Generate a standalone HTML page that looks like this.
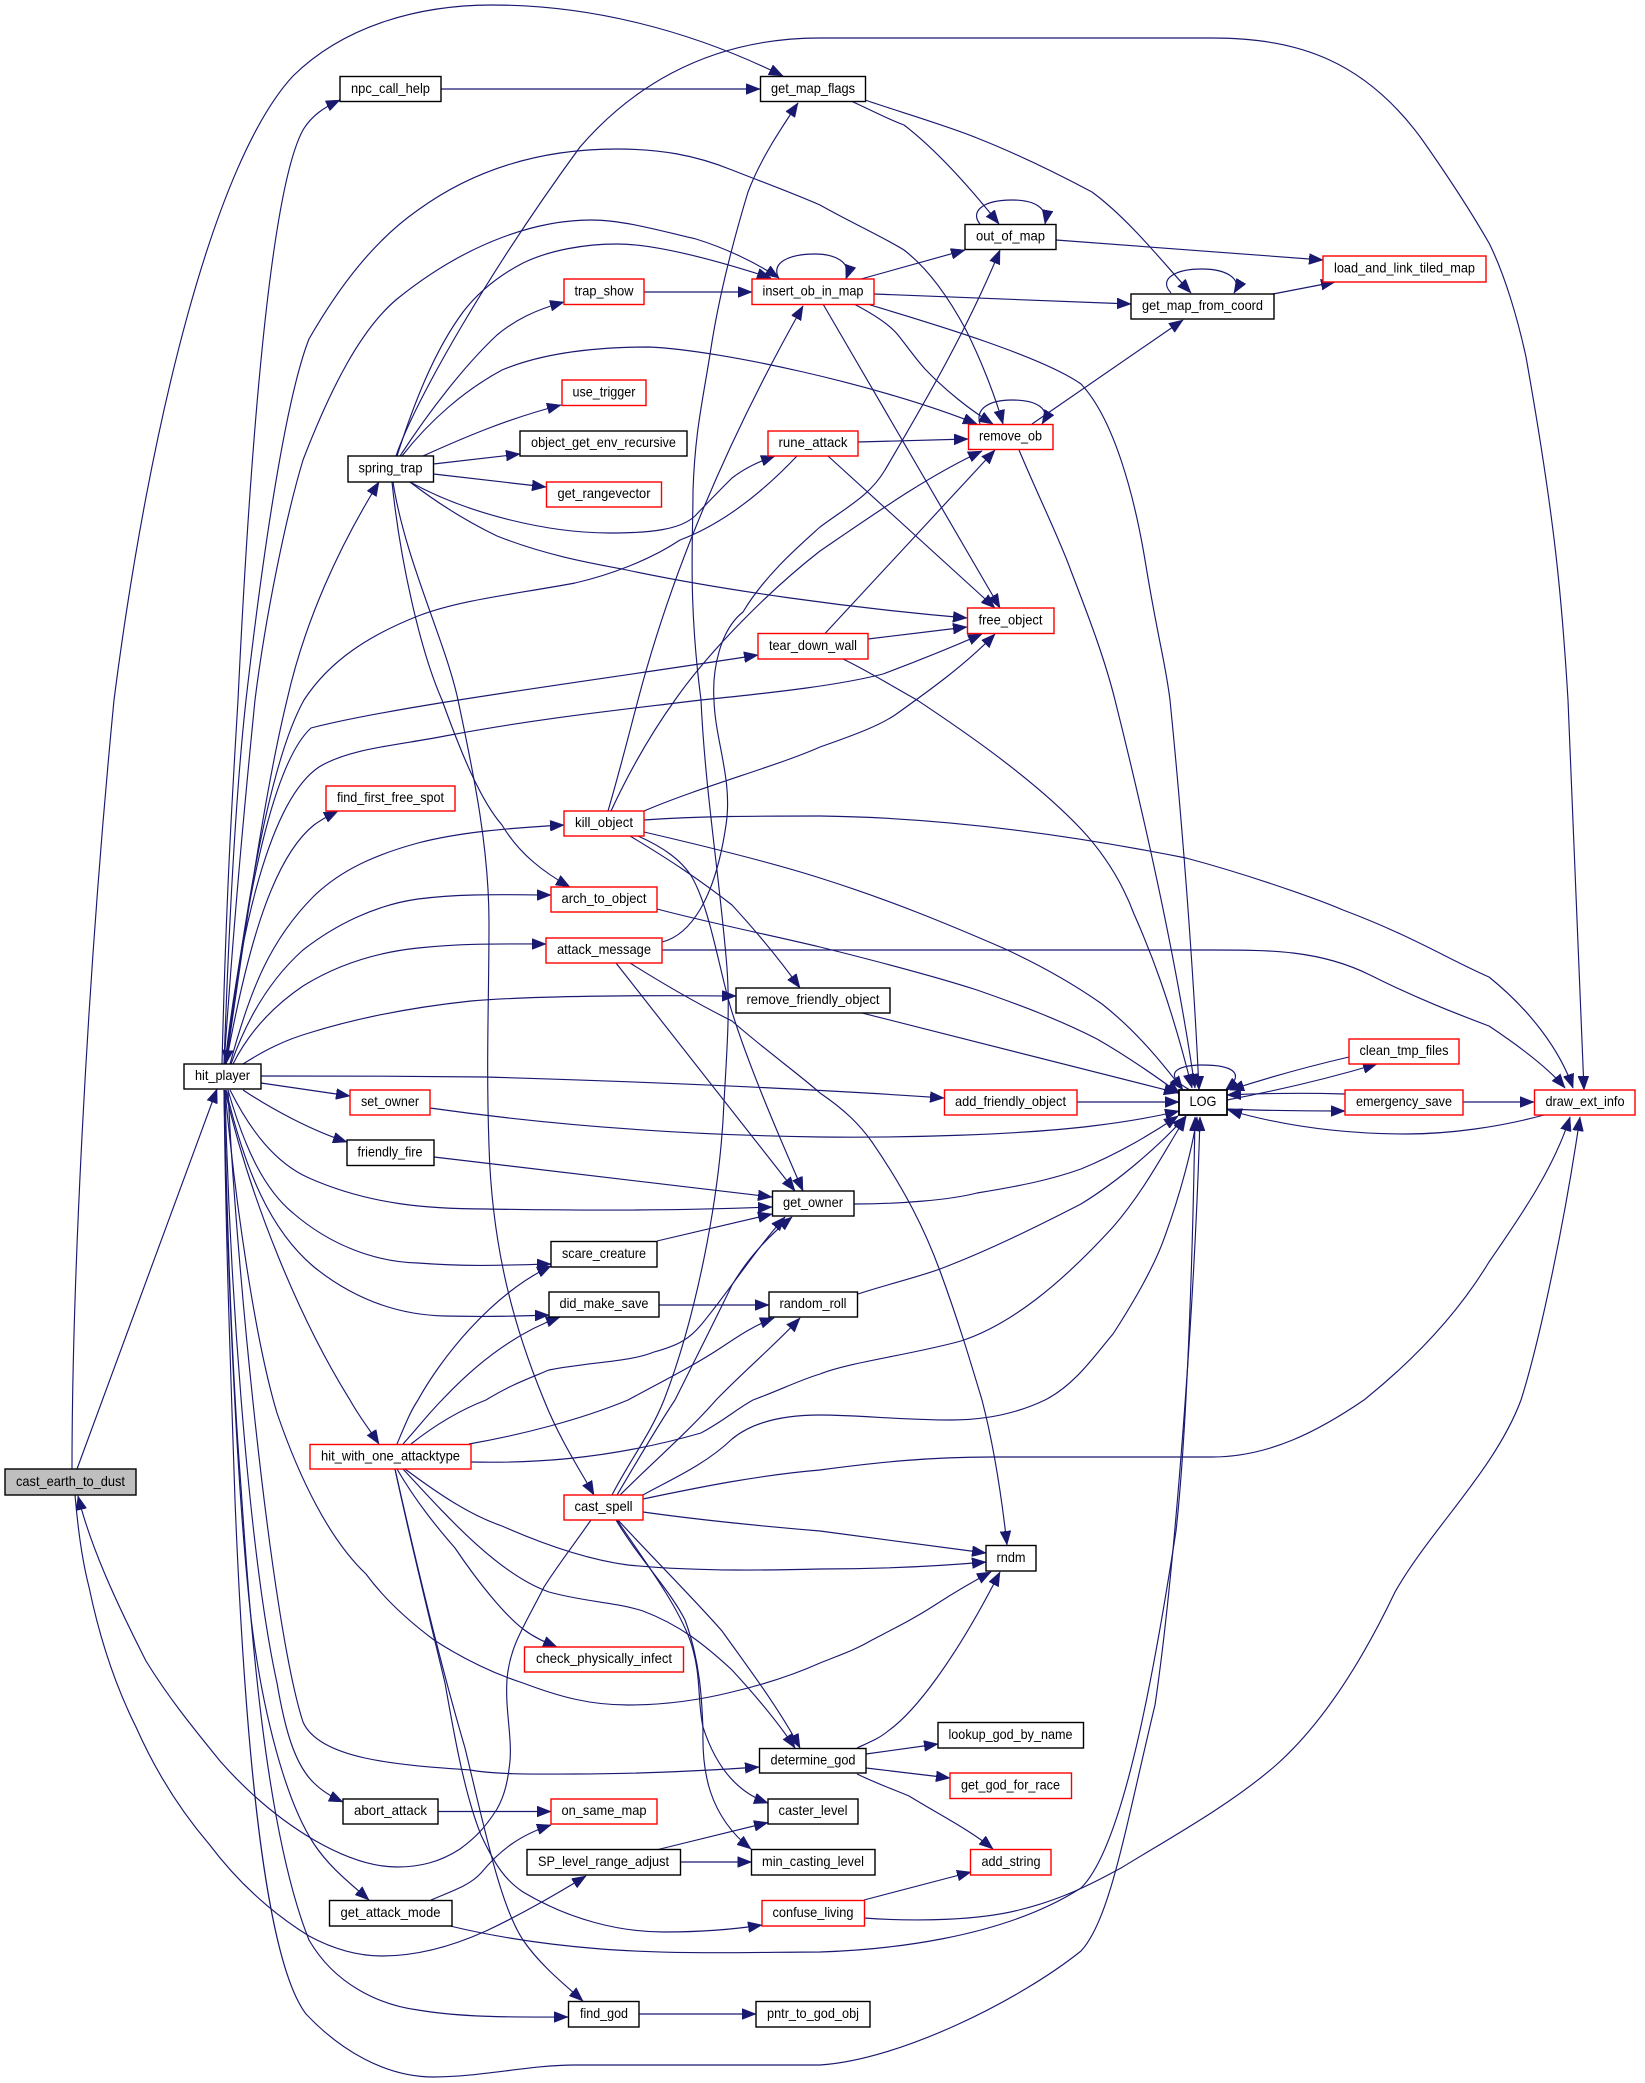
<!DOCTYPE html>
<html><head><meta charset="utf-8"><title>cast_earth_to_dust call graph</title>
<style>
html,body{margin:0;padding:0;background:#fff}
svg{display:block}
.e path{fill:none;stroke:#191970;stroke-width:1.15;marker-end:url(#a)}
.n rect{fill:#fff;stroke:#000;stroke-width:1.4}
.n rect.r{stroke:#f00}
.n rect.g{fill:#bfbfbf}
.n text{font-family:"Liberation Sans",sans-serif;font-size:14px;fill:#000;text-anchor:middle}
</style></head><body>
<svg width="1645" height="2083" viewBox="0 0 1645 2083" xmlns="http://www.w3.org/2000/svg">
<defs><marker id="a" markerUnits="userSpaceOnUse" markerWidth="15" markerHeight="11" refX="14" refY="5.5" orient="auto"><path d="M0,0L14,5.5L0,11Z" fill="#191970" style="stroke:#191970;stroke-width:.5;marker-end:none"/></marker></defs>
<g class="e">
<path d="M72,1469C72,1300 85,1000 114,700C150,420 215,160 293,76C345,25 420,5 492,5C590,5 690,30 783,76"/>
<path d="M77,1469L217,1089"/>
<path d="M591,1520C570,1550 558,1565 544,1587C525,1625 510,1645 507,1679C505,1710 512,1735 510,1761C508,1780 505,1795 497,1809C485,1828 475,1838 460,1849C440,1862 420,1867 397,1867C370,1867 340,1855 314,1840C280,1820 250,1795 220,1761C195,1730 170,1700 146,1661C115,1600 90,1545 78,1496"/>
<path d="M75,1495C78,1530 82,1560 89,1587C100,1640 115,1685 136,1727C155,1770 180,1810 209,1844C240,1885 275,1915 309,1936C335,1950 360,1956 382,1956C420,1956 455,1945 486,1931C520,1915 555,1895 586,1876"/>
<path d="M222,1064C226,900 232,800 238,700C250,450 270,190 303,130C312,115 325,107 340,100"/>
<path d="M224,1064C232,950 240,850 255,700C265,620 285,520 303,460C330,390 360,330 397,299C470,240 540,220 591,220C625,220 665,232 696,239C725,248 755,262 779,278"/>
<path d="M224,1064C228,950 235,800 246,700C262,560 285,400 309,339C340,285 375,240 418,210C480,165 550,149 617,149C660,149 695,155 732,170C765,183 790,192 820,205C850,222 885,238 904,250C930,270 950,300 966,330C980,358 995,395 1003,424"/>
<path d="M797,456C760,495 720,525 680,540C650,560 610,575 575,583C510,595 460,600 418,616C370,635 330,660 304,700C265,770 240,950 226,1064"/>
<path d="M410,482C470,515 550,533 609,533C650,533 680,530 695,516C710,500 720,490 732,478C745,468 758,462 775,456"/>
<path d="M225,1064C240,950 265,770 311,728C400,705 600,680 758,655"/>
<path d="M225,1064C240,930 270,800 319,767C350,748 400,745 445,736C540,718 620,710 701,700C780,692 840,685 883,674C915,662 950,648 982,634"/>
<path d="M226,1064C245,960 270,860 314,825C322,819 330,815 338,811"/>
<path d="M230,1064C250,990 270,940 314,896C345,866 385,852 418,843C460,832 510,828 564,825"/>
<path d="M231,1064C250,1010 275,975 303,950C335,925 375,905 418,899C465,893 510,895 551,895"/>
<path d="M233,1064C250,1030 275,1005 303,986C340,963 380,952 418,948C465,943 505,944 546,944"/>
<path d="M243,1064C265,1050 285,1040 309,1033C360,1017 415,1007 471,1001C530,996 640,995 736,996"/>
<path d="M261,1076C320,1076 420,1076 486,1077C620,1081 800,1088 944,1098"/>
<path d="M261,1083L350,1096"/>
<path d="M243,1090C270,1108 310,1130 347,1142"/>
<path d="M230,1090C250,1130 275,1163 309,1178C370,1205 430,1209 486,1209C600,1211 700,1210 772,1207"/>
<path d="M228,1090C245,1150 265,1190 293,1213C330,1245 375,1262 418,1263C470,1267 510,1265 551,1264"/>
<path d="M226,1090C245,1170 270,1230 314,1267C355,1300 400,1315 445,1316C490,1317 520,1316 549,1315"/>
<path d="M225,1090C250,1200 300,1320 350,1400C360,1418 370,1430 379,1444"/>
<path d="M226,1064C245,930 265,790 287,700C305,620 340,545 379,482"/>
<path d="M225,1090C235,1200 255,1340 277,1413C300,1480 330,1540 366,1574C385,1600 410,1622 434,1640C465,1660 495,1674 523,1683C560,1697 590,1705 628,1705C665,1705 700,1700 732,1692C770,1683 800,1672 820,1663C840,1655 855,1650 872,1640C895,1628 915,1618 935,1605C955,1592 972,1582 991,1572"/>
<path d="M225,1090C230,1300 250,1560 277,1683C285,1730 295,1765 314,1783C322,1791 332,1797 343,1802"/>
<path d="M224,1090C228,1300 238,1500 251,1618C262,1710 285,1800 314,1844C330,1868 350,1883 369,1900"/>
<path d="M228,1090C235,1250 270,1620 303,1722C320,1760 400,1765 470,1770C500,1775 540,1774 575,1774C640,1774 700,1771 759,1767"/>
<path d="M224,1090C228,1250 232,1370 241,1487C250,1620 265,1830 309,1940C335,1985 380,2005 418,2010C465,2018 520,2017 568,2017"/>
<path d="M224,1090C226,1250 230,1350 235,1500C245,1750 265,1960 306,2014C340,2050 385,2077 434,2077C480,2077 530,2065 575,2065L820,2065C900,2060 1020,2000 1081,1951C1110,1920 1125,1830 1155,1705C1175,1570 1195,1300 1200,1117"/>
<path d="M400,456C430,410 465,365 497,335C515,320 535,310 564,302"/>
<path d="M397,456C415,400 435,350 463,312C480,290 500,275 523,263C550,250 585,244 617,244C650,244 700,255 771,278"/>
<path d="M396,456C415,400 490,270 580,147C625,95 700,38 820,38L1212,38C1300,38 1365,62 1421,138C1445,172 1470,210 1489,243C1505,275 1518,320 1526,357C1555,520 1562,600 1568,700C1575,850 1580,1000 1584,1090"/>
<path d="M402,456C430,420 465,390 502,370C545,352 600,347 649,347C720,350 880,385 977,424"/>
<path d="M423,456C465,437 510,418 561,405"/>
<path d="M433.5,464L520,454"/>
<path d="M433.5,474L546,487"/>
<path d="M410,482C440,505 470,523 497,536C545,555 590,563 622,569C720,590 850,608 967,618"/>
<path d="M392,482C400,560 420,650 442,700C460,750 480,800 502,825C520,855 545,873 570,887"/>
<path d="M393,482C405,560 445,640 458,700C475,780 489,850 489,923C489,1000 486,1060 489,1146C492,1250 515,1330 544,1400C560,1440 580,1470 594,1495"/>
<path d="M644,292L752,292"/>
<path d="M441,89L760,89"/>
<path d="M851,101C875,112 890,120 904,125C930,145 960,175 999,224"/>
<path d="M865,100C900,112 945,125 977,138C1020,155 1060,175 1092,192C1130,220 1165,265 1191,293"/>
<path d="M980,224C970,212 982,200 1012,200C1035,200 1048,208 1045,224"/>
<path d="M1056,240L1323,260"/>
<path d="M1171,293C1158,279 1175,269 1202,269C1225,269 1243,278 1234,293"/>
<path d="M1273,294L1335,282"/>
<path d="M861,279L965,250"/>
<path d="M779,279C770,262 790,254 815,254C835,254 852,262 846,279"/>
<path d="M874,294L1131,304"/>
<path d="M854,304C875,315 890,325 898,335C910,350 915,358 925,369C945,390 970,410 993,424"/>
<path d="M823,304L1000,608"/>
<path d="M867,304C920,320 1040,355 1081,384C1115,420 1135,500 1145,560C1158,640 1165,660 1170,700C1185,850 1195,1000 1199,1090"/>
<path d="M980,424C975,408 990,400 1012,400C1035,400 1052,408 1042,424"/>
<path d="M1032,424L1183,320"/>
<path d="M1019,450C1040,500 1060,540 1071,571C1090,620 1105,660 1115,700C1140,800 1175,950 1195,1088"/>
<path d="M858,442L968,439"/>
<path d="M828,456L995,608"/>
<path d="M825,633.5L995,450"/>
<path d="M868,639L967,627"/>
<path d="M843,659C870,672 895,688 917,700C950,722 1030,775 1081,829C1110,860 1125,890 1134,914C1150,950 1170,1000 1192,1088"/>
<path d="M608,811C620,770 630,730 638,700C680,540 750,400 803,306"/>
<path d="M611,811C630,770 650,735 675,700C710,650 770,590 820,551C880,510 930,475 982,451"/>
<path d="M644,811C700,787 780,765 820,747C860,733 880,725 895,715C930,690 965,665 995,634"/>
<path d="M644,820C700,816 760,816 820,816C900,817 1020,825 1186,858C1250,875 1320,900 1343,910C1410,935 1450,960 1489,977C1530,1010 1560,1050 1573,1088"/>
<path d="M644,832C700,845 770,862 820,878C890,900 950,925 1003,948C1040,965 1075,985 1102,1004C1135,1030 1160,1060 1183,1090"/>
<path d="M630,836C670,860 700,880 732,905C755,930 780,960 800,988"/>
<path d="M638,836C665,848 680,860 690,874C710,905 720,975 732,1012C750,1070 785,1150 803,1191"/>
<path d="M657,909C710,923 770,935 820,947C880,962 940,978 977,990C1020,1005 1060,1020 1097,1039C1125,1055 1150,1072 1180,1094"/>
<path d="M662,942C690,935 715,900 726,825C733,780 715,740 714,700C712,670 720,630 743,612C765,575 800,545 820,527C850,505 870,495 885,470C920,410 965,335 1000,250"/>
<path d="M662,950L1212,950C1270,950 1320,950 1370,975C1420,1000 1460,1015 1489,1026C1525,1050 1550,1070 1565,1088"/>
<path d="M616,963L795,1191"/>
<path d="M630,963C665,985 700,1005 732,1021C765,1050 800,1075 820,1093C845,1110 860,1125 872,1142C905,1190 925,1230 940,1271C958,1320 970,1360 982,1400C995,1450 1002,1500 1007,1545"/>
<path d="M862,1013L1178,1093"/>
<path d="M1077,1102L1179,1102"/>
<path d="M430,1108C550,1125 680,1135 820,1137C900,1138 1020,1135 1092,1126C1125,1122 1150,1118 1179,1111"/>
<path d="M434,1157L772,1197"/>
<path d="M657,1241L772,1214"/>
<path d="M659,1305L769,1305"/>
<path d="M854,1204C900,1204 950,1200 977,1193C1020,1186 1050,1180 1081,1169C1115,1155 1150,1135 1178,1116"/>
<path d="M858,1294C885,1285 915,1278 940,1269C990,1250 1040,1225 1081,1204C1120,1180 1160,1145 1186,1116"/>
<path d="M397,1444C405,1425 410,1412 418,1400C440,1360 490,1295 551,1266"/>
<path d="M403,1444C420,1425 430,1412 442,1400C470,1370 510,1335 560,1317"/>
<path d="M411,1444C435,1425 460,1410 486,1400C510,1385 530,1378 549,1370C590,1362 630,1362 654,1352C680,1345 690,1338 701,1325C730,1290 755,1250 785,1217"/>
<path d="M469,1444C520,1435 580,1420 628,1400C665,1380 695,1365 722,1347C740,1335 755,1325 774,1318"/>
<path d="M471,1462C520,1463 600,1462 701,1433C725,1420 735,1410 753,1400C780,1390 800,1380 820,1374C850,1362 910,1355 961,1341C1010,1325 1060,1285 1113,1227C1145,1190 1165,1150 1186,1117"/>
<path d="M643,1495C670,1480 705,1465 732,1439C755,1420 790,1415 820,1415C860,1415 900,1420 951,1420C990,1420 1020,1412 1045,1400C1075,1385 1095,1355 1113,1334C1135,1300 1155,1265 1165,1236C1180,1195 1192,1150 1197,1117"/>
<path d="M612,1495C630,1460 650,1435 664,1400C695,1320 720,1200 724,1102C727,1050 730,1010 727,968C720,880 705,790 701,700C688,600 693,540 693,491C695,430 703,400 711,348C720,290 735,235 748,192C760,160 780,130 798,103"/>
<path d="M617,1495C635,1465 655,1430 675,1400C700,1350 725,1300 732,1285C750,1255 770,1235 792,1217"/>
<path d="M620,1495C650,1465 690,1430 716,1400C745,1370 775,1345 800,1318"/>
<path d="M643,1512C700,1520 760,1526 820,1531L986,1553"/>
<path d="M618,1520C650,1555 695,1600 722,1631C750,1670 780,1710 800,1748"/>
<path d="M617,1520C640,1555 675,1600 690,1640C702,1675 697,1700 703,1727C712,1755 730,1790 768,1803"/>
<path d="M616,1520C640,1560 670,1590 685,1620C700,1660 702,1700 703,1731C702,1770 708,1815 751,1849"/>
<path d="M405,1469C440,1495 470,1515 502,1526C545,1545 590,1560 628,1565C700,1572 780,1570 820,1569C880,1569 940,1566 986,1562"/>
<path d="M403,1469C450,1520 500,1575 549,1592C585,1602 615,1602 643,1611C680,1625 705,1645 732,1670C755,1695 780,1725 795,1748"/>
<path d="M397,1469C415,1500 435,1525 455,1548C480,1585 505,1615 523,1629C535,1638 545,1642 557,1647"/>
<path d="M395,1469C420,1580 445,1680 465,1748C485,1830 500,1905 523,1940C540,1965 565,1985 583,2001"/>
<path d="M395,1469C410,1540 430,1620 445,1683C455,1740 465,1795 481,1835C495,1865 505,1880 523,1892C570,1920 620,1932 664,1932C695,1932 730,1930 762,1925"/>
<path d="M438,1811.5L551,1811.5"/>
<path d="M431,1900C455,1890 470,1885 481,1873C500,1850 520,1835 551,1825"/>
<path d="M450,1926C500,1938 550,1945 601,1949C680,1955 760,1952 820,1952C880,1950 1000,1940 1081,1888C1120,1850 1150,1700 1176,1531C1185,1450 1192,1300 1195,1117"/>
<path d="M658,1849.5L768,1822.5"/>
<path d="M680.5,1862L751.5,1862"/>
<path d="M864,1900L971,1872"/>
<path d="M864,1918C920,1922 980,1920 1019,1910C1060,1900 1090,1885 1121,1868C1170,1838 1230,1805 1275,1766C1325,1722 1365,1655 1395,1592C1430,1530 1495,1470 1521,1400C1540,1340 1565,1220 1580,1117"/>
<path d="M643,1499C700,1487 760,1475 820,1470C880,1462 930,1457 992,1457L1212,1457C1270,1457 1320,1430 1364,1400C1420,1355 1460,1310 1489,1262C1525,1210 1555,1165 1570,1117"/>
<path d="M857,1748C870,1742 880,1738 888,1731C915,1712 955,1660 1000,1572"/>
<path d="M866,1754L938,1744"/>
<path d="M866,1768L950,1778"/>
<path d="M857,1774C880,1785 895,1790 909,1796C940,1815 970,1830 993,1849"/>
<path d="M639,2014L756,2014"/>
<path d="M1190,1090C1162,1075 1175,1065 1202,1065C1230,1065 1248,1072 1225,1091"/>
<path d="M1227,1100C1280,1090 1330,1078 1377,1064"/>
<path d="M1349,1057C1310,1066 1270,1077 1230,1090"/>
<path d="M1345,1094C1310,1093 1270,1093 1227,1095"/>
<path d="M1227,1109C1270,1111 1310,1111 1345,1111"/>
<path d="M1463,1102L1534,1102"/>
<path d="M1544,1115C1500,1127 1450,1134 1406,1134C1350,1134 1290,1128 1228,1110"/>
</g>
<g class="n">
<rect x="340" y="76.5" width="101" height="25"/><text x="390.5" y="93" textLength="79" lengthAdjust="spacingAndGlyphs">npc_call_help</text>
<rect x="760.5" y="76.5" width="105" height="25"/><text x="813" y="93" textLength="84" lengthAdjust="spacingAndGlyphs">get_map_flags</text>
<rect class="r" x="564" y="279" width="80" height="25.5"/><text x="604" y="295.5" textLength="59" lengthAdjust="spacingAndGlyphs">trap_show</text>
<rect class="r" x="752" y="279" width="122" height="25.5"/><text x="813" y="295.5" textLength="101" lengthAdjust="spacingAndGlyphs">insert_ob_in_map</text>
<rect class="r" x="562" y="380" width="84" height="25.5"/><text x="604" y="396.5" textLength="63" lengthAdjust="spacingAndGlyphs">use_trigger</text>
<rect x="520" y="431" width="167" height="25"/><text x="603.5" y="447" textLength="145" lengthAdjust="spacingAndGlyphs">object_get_env_recursive</text>
<rect x="348" y="456" width="85.5" height="26"/><text x="390.5" y="472.5" textLength="64" lengthAdjust="spacingAndGlyphs">spring_trap</text>
<rect class="r" x="546.5" y="482" width="115" height="25"/><text x="604" y="498" textLength="93" lengthAdjust="spacingAndGlyphs">get_rangevector</text>
<rect class="r" x="768" y="431" width="90" height="25"/><text x="813" y="447" textLength="69" lengthAdjust="spacingAndGlyphs">rune_attack</text>
<rect class="r" x="758" y="633.5" width="110" height="25.5"/><text x="813" y="650" textLength="88" lengthAdjust="spacingAndGlyphs">tear_down_wall</text>
<rect x="965" y="224.5" width="91" height="25"/><text x="1010.5" y="240.5" textLength="69" lengthAdjust="spacingAndGlyphs">out_of_map</text>
<rect x="1131" y="294" width="143" height="25"/><text x="1202.5" y="310" textLength="121" lengthAdjust="spacingAndGlyphs">get_map_from_coord</text>
<rect class="r" x="1323" y="256" width="163" height="26"/><text x="1404.5" y="272.5" textLength="141" lengthAdjust="spacingAndGlyphs">load_and_link_tiled_map</text>
<rect class="r" x="968.5" y="424.5" width="84.5" height="25"/><text x="1010.5" y="440.5" textLength="63" lengthAdjust="spacingAndGlyphs">remove_ob</text>
<rect class="r" x="967.5" y="608" width="86.5" height="25.5"/><text x="1010.5" y="624.5" textLength="64" lengthAdjust="spacingAndGlyphs">free_object</text>
<rect class="r" x="326" y="786" width="129" height="25"/><text x="390.5" y="802" textLength="107" lengthAdjust="spacingAndGlyphs">find_first_free_spot</text>
<rect class="r" x="564" y="811" width="80" height="25"/><text x="604" y="827" textLength="58" lengthAdjust="spacingAndGlyphs">kill_object</text>
<rect class="r" x="551" y="887" width="106" height="25"/><text x="604" y="903" textLength="85" lengthAdjust="spacingAndGlyphs">arch_to_object</text>
<rect class="r" x="546" y="938" width="116" height="25"/><text x="604" y="954" textLength="94" lengthAdjust="spacingAndGlyphs">attack_message</text>
<rect x="736" y="988" width="154" height="25"/><text x="813" y="1004" textLength="133" lengthAdjust="spacingAndGlyphs">remove_friendly_object</text>
<rect x="184" y="1064" width="77" height="25"/><text x="222.5" y="1080" textLength="55" lengthAdjust="spacingAndGlyphs">hit_player</text>
<rect class="r" x="350" y="1090" width="80" height="25"/><text x="390" y="1106" textLength="58" lengthAdjust="spacingAndGlyphs">set_owner</text>
<rect x="347" y="1140" width="87" height="25.5"/><text x="390" y="1156.5" textLength="65" lengthAdjust="spacingAndGlyphs">friendly_fire</text>
<rect x="772.5" y="1191" width="81.5" height="25"/><text x="813" y="1207" textLength="60" lengthAdjust="spacingAndGlyphs">get_owner</text>
<rect x="551" y="1241.5" width="106" height="25.5"/><text x="604" y="1258" textLength="84" lengthAdjust="spacingAndGlyphs">scare_creature</text>
<rect x="549" y="1292" width="110" height="25"/><text x="604" y="1308" textLength="89" lengthAdjust="spacingAndGlyphs">did_make_save</text>
<rect x="769" y="1292" width="88.5" height="25"/><text x="813" y="1308" textLength="67" lengthAdjust="spacingAndGlyphs">random_roll</text>
<rect class="r" x="944.5" y="1090" width="132.5" height="25"/><text x="1010.5" y="1106" textLength="111" lengthAdjust="spacingAndGlyphs">add_friendly_object</text>
<rect x="1179" y="1090" width="48" height="25" style="stroke-width:1.8"/><text x="1203" y="1106" textLength="27" lengthAdjust="spacingAndGlyphs">LOG</text>
<rect class="r" x="1349" y="1039" width="110" height="25"/><text x="1404" y="1055" textLength="89" lengthAdjust="spacingAndGlyphs">clean_tmp_files</text>
<rect class="r" x="1345" y="1090" width="118" height="25"/><text x="1404" y="1106" textLength="96" lengthAdjust="spacingAndGlyphs">emergency_save</text>
<rect class="r" x="1534.5" y="1090" width="100.5" height="25"/><text x="1585" y="1106" textLength="79" lengthAdjust="spacingAndGlyphs">draw_ext_info</text>
<rect class="r" x="310" y="1444.5" width="161" height="24.5"/><text x="390.5" y="1460.5" textLength="139" lengthAdjust="spacingAndGlyphs">hit_with_one_attacktype</text>
<rect class="g" x="5" y="1469" width="131" height="26"/><text x="70.5" y="1486" textLength="109" lengthAdjust="spacingAndGlyphs">cast_earth_to_dust</text>
<rect class="r" x="564" y="1495" width="79" height="25"/><text x="603.5" y="1511" textLength="58" lengthAdjust="spacingAndGlyphs">cast_spell</text>
<rect x="986" y="1545.5" width="50" height="25.5"/><text x="1011" y="1562" textLength="29" lengthAdjust="spacingAndGlyphs">rndm</text>
<rect class="r" x="524.5" y="1647" width="159" height="25"/><text x="604" y="1663" textLength="136" lengthAdjust="spacingAndGlyphs">check_physically_infect</text>
<rect x="938" y="1722.5" width="145.5" height="25.5"/><text x="1010.5" y="1739" textLength="124" lengthAdjust="spacingAndGlyphs">lookup_god_by_name</text>
<rect x="759.5" y="1748.5" width="106.5" height="24.5"/><text x="813" y="1764.5" textLength="85" lengthAdjust="spacingAndGlyphs">determine_god</text>
<rect class="r" x="950" y="1773" width="121.5" height="25.5"/><text x="1010.5" y="1789.5" textLength="99" lengthAdjust="spacingAndGlyphs">get_god_for_race</text>
<rect x="343" y="1799" width="95" height="25"/><text x="390.5" y="1815" textLength="73" lengthAdjust="spacingAndGlyphs">abort_attack</text>
<rect class="r" x="551" y="1799" width="106" height="25"/><text x="604" y="1815" textLength="85" lengthAdjust="spacingAndGlyphs">on_same_map</text>
<rect x="768" y="1799" width="90" height="25"/><text x="813" y="1815" textLength="69" lengthAdjust="spacingAndGlyphs">caster_level</text>
<rect x="527" y="1849.5" width="153.5" height="25.5"/><text x="603.5" y="1866" textLength="131" lengthAdjust="spacingAndGlyphs">SP_level_range_adjust</text>
<rect x="751.5" y="1849.5" width="123.5" height="25.5"/><text x="813" y="1866" textLength="102" lengthAdjust="spacingAndGlyphs">min_casting_level</text>
<rect class="r" x="970.5" y="1849.5" width="80.5" height="25.5"/><text x="1011" y="1866" textLength="59" lengthAdjust="spacingAndGlyphs">add_string</text>
<rect x="329.5" y="1900.5" width="122.5" height="25.5"/><text x="390.5" y="1917" textLength="100" lengthAdjust="spacingAndGlyphs">get_attack_mode</text>
<rect class="r" x="762" y="1900.5" width="102.5" height="25.5"/><text x="813" y="1917" textLength="81" lengthAdjust="spacingAndGlyphs">confuse_living</text>
<rect x="568.5" y="2001.5" width="70.5" height="25.5"/><text x="604" y="2018" textLength="48" lengthAdjust="spacingAndGlyphs">find_god</text>
<rect x="756" y="2001.5" width="114" height="25.5"/><text x="813" y="2018" textLength="92" lengthAdjust="spacingAndGlyphs">pntr_to_god_obj</text>
</g>
</svg>
</body></html>
